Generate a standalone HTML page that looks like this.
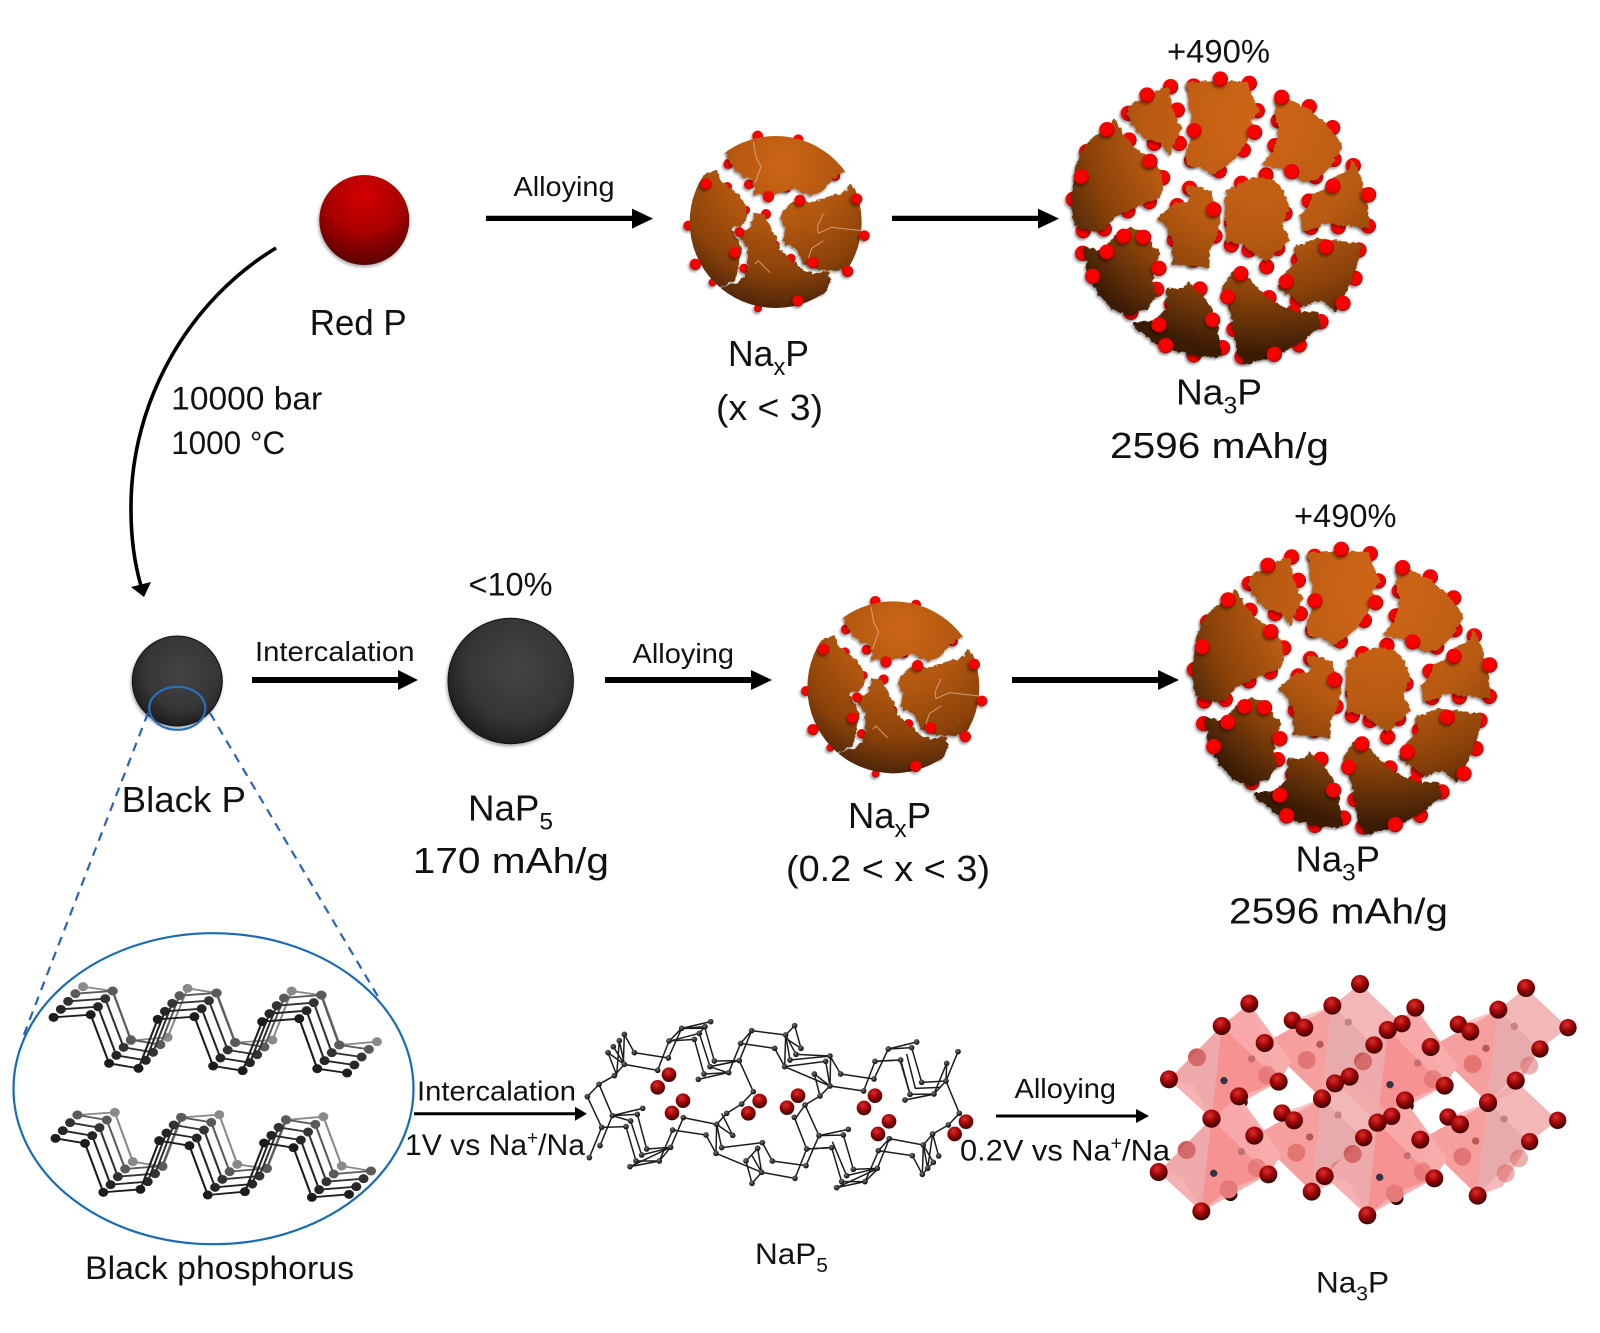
<!DOCTYPE html>
<html lang="en"><head><meta charset="utf-8"><title>Sodium phosphide diagram</title>
<style>html,body{margin:0;padding:0;background:#fff}svg{display:block}text{font-family:"Liberation Sans",sans-serif;fill:#111}</style></head>
<body>
<svg xmlns="http://www.w3.org/2000/svg" width="1600" height="1333" viewBox="0 0 1600 1333">
<defs>
<radialGradient id="redP" cx=".5" cy=".22" r=".85"><stop offset="0" stop-color="#d40000"/><stop offset=".5" stop-color="#a80000"/><stop offset=".85" stop-color="#660000"/><stop offset="1" stop-color="#4a0000"/></radialGradient>
<radialGradient id="blk" cx=".55" cy=".4" r=".62"><stop offset="0" stop-color="#444"/><stop offset=".65" stop-color="#363636"/><stop offset="1" stop-color="#1c1c1c"/></radialGradient>
<radialGradient id="ball" cx=".45" cy=".42" r=".6"><stop offset="0" stop-color="#ff0000"/><stop offset=".75" stop-color="#f40000"/><stop offset="1" stop-color="#9a0000"/></radialGradient>
<radialGradient id="dball" cx=".42" cy=".32" r=".68"><stop offset="0" stop-color="#d83030"/><stop offset=".45" stop-color="#a80808"/><stop offset="1" stop-color="#3a0000"/></radialGradient>
<radialGradient id="at" cx=".4" cy=".35" r=".7"><stop offset="0" stop-color="#777"/><stop offset=".5" stop-color="#333"/><stop offset="1" stop-color="#111"/></radialGradient>
<radialGradient id="gL" gradientUnits="userSpaceOnUse" cx="600" cy="180" r="700"><stop offset=".1" stop-color="#cc6416"/><stop offset=".5" stop-color="#b85a12"/><stop offset=".75" stop-color="#8a4209"/><stop offset=".92" stop-color="#552a08"/><stop offset="1" stop-color="#3c1b04"/></radialGradient>
<radialGradient id="gS" gradientUnits="userSpaceOnUse" cx="310" cy="130" r="470"><stop offset="0" stop-color="#cd6516"/><stop offset=".4" stop-color="#b0560f"/><stop offset=".7" stop-color="#8a4209"/><stop offset=".9" stop-color="#55290a"/><stop offset="1" stop-color="#3c1b04"/></radialGradient>
<filter id="sh" x="-5%" y="-5%" width="110%" height="110%" color-interpolation-filters="sRGB"><feDropShadow dx="-4" dy="6" stdDeviation="4" flood-color="#000" flood-opacity=".4"/></filter>
<filter id="rough" x="-5%" y="-5%" width="110%" height="110%" color-interpolation-filters="sRGB"><feTurbulence type="fractalNoise" baseFrequency=".07" numOctaves="2" seed="3" result="n"/><feDisplacementMap in="SourceGraphic" in2="n" scale="16" xChannelSelector="R" yChannelSelector="G" result="d"/><feDropShadow in="d" dx="-4" dy="6" stdDeviation="4" flood-color="#000" flood-opacity=".4"/></filter>
<filter id="sh2" x="-15%" y="-15%" width="130%" height="130%" color-interpolation-filters="sRGB"><feDropShadow dx="-1" dy="2" stdDeviation="1.5" flood-color="#000" flood-opacity=".35"/></filter>
<clipPath id="cs"><circle cx="287" cy="306" r="258"/></clipPath>

<g id="L">
<g filter="url(#sh)" fill="url(#ball)">
<circle cx="332" cy="80" r="23"/><circle cx="352" cy="150" r="23"/><circle cx="358" cy="250" r="23"/><circle cx="283" cy="250" r="23"/><circle cx="205" cy="160" r="23"/>
<circle cx="401" cy="78" r="23"/><circle cx="568" cy="70" r="23"/><circle cx="592" cy="152" r="23"/><circle cx="550" cy="270" r="23"/><circle cx="478" cy="332" r="23"/><circle cx="395" cy="300" r="23"/>
<circle cx="748" cy="140" r="23"/><circle cx="818" cy="203" r="23"/><circle cx="822" cy="298" r="23"/><circle cx="767" cy="350" r="23"/><circle cx="655" cy="182" r="23"/><circle cx="645" cy="257" r="23"/>
<circle cx="207" cy="240" r="23"/><circle cx="80" cy="275" r="23"/><circle cx="308" cy="353" r="23"/><circle cx="40" cy="418" r="23"/><circle cx="268" cy="425" r="23"/><circle cx="204" cy="452" r="23"/><circle cx="70" cy="512" r="23"/><circle cx="133" cy="507" r="23"/>
<circle cx="389" cy="385" r="23"/><circle cx="352" cy="437" r="23"/><circle cx="465" cy="528" r="23"/><circle cx="343" cy="540" r="23"/><circle cx="400" cy="600" r="23"/>
<circle cx="545" cy="370" r="23"/><circle cx="618" cy="345" r="23"/><circle cx="675" cy="460" r="23"/><circle cx="515" cy="490" r="23"/><circle cx="514" cy="555" r="23"/><circle cx="567" cy="570" r="23"/><circle cx="653" cy="565" r="23"/><circle cx="620" cy="620" r="23"/>
<circle cx="880" cy="317" r="23"/><circle cx="747" cy="423" r="23"/><circle cx="925" cy="498" r="23"/><circle cx="835" cy="500" r="23"/><circle cx="753" cy="502" r="23"/>
<circle cx="897" cy="570" r="23"/><circle cx="715" cy="600" r="23"/><circle cx="885" cy="655" r="23"/><circle cx="712" cy="722" r="23"/>
<circle cx="68" cy="580" r="23"/><circle cx="290" cy="688" r="23"/><circle cx="213" cy="757" r="23"/>
<circle cx="420" cy="687" r="23"/><circle cx="335" cy="733" r="23"/><circle cx="488" cy="863" r="23"/><circle cx="402" cy="885" r="23"/>
<circle cx="627" cy="713" r="23"/><circle cx="700" cy="757" r="23"/><circle cx="783" cy="785" r="23"/><circle cx="718" cy="855" r="23"/><circle cx="546" cy="890" r="23"/><circle cx="522" cy="808" r="23"/>
</g>
<g filter="url(#rough)" fill="url(#gL)" stroke="url(#gL)" stroke-width="10" stroke-linejoin="round">
<polygon points="205,150 235,125 270,105 322,85 328,120 335,150 345,180 360,205 345,235 328,280 308,250 270,235 230,210 215,180"/>
<polygon points="385,72 440,70 500,68 560,72 572,110 580,130 595,155 572,175 570,210 552,250 525,290 495,315 460,338 420,320 385,310 382,280 395,240 400,190 392,140"/>
<polygon points="650,125 690,125 740,150 790,190 820,225 842,255 830,285 805,320 770,355 730,362 700,340 660,322 615,312 640,280 655,240 660,200 650,160"/>
<polygon points="165,185 185,225 225,270 270,300 295,330 303,380 295,410 250,425 205,450 165,465 130,505 100,510 50,495 38,450 42,380 56,310 82,255 125,220"/>
<polygon points="380,385 420,385 450,400 465,450 475,480 465,530 445,570 440,620 400,612 340,610 345,560 325,500 297,475 345,435 385,430 395,410"/>
<polygon points="505,395 550,370 590,355 640,365 675,410 682,450 660,490 685,540 650,570 620,600 590,580 545,545 500,540 505,490 498,440"/>
<polygon points="878,305 900,360 915,410 925,500 850,492 790,488 760,505 730,510 725,470 750,440 760,405 800,390 830,350 870,335"/>
<polygon points="705,565 770,540 900,555 885,620 860,680 825,750 790,715 730,730 690,700 660,685 690,630 720,600"/>
<polygon points="75,565 130,580 170,530 210,505 240,515 275,560 295,580 280,620 275,670 285,705 255,745 215,760 160,745 120,700 92,650"/>
<polygon points="222,792 290,785 325,745 325,690 370,690 385,672 425,710 450,745 470,800 480,885 420,885 350,870 280,840"/>
<polygon points="520,640 560,650 590,690 640,730 700,760 770,760 778,795 720,840 640,885 560,908 535,870 525,810 510,730 490,690"/>
</g>
<g filter="url(#sh)" fill="url(#ball)">
<circle cx="261" cy="105" r="23"/><circle cx="481" cy="57" r="23"/><circle cx="584" cy="217" r="23"/><circle cx="402" cy="212" r="23"/><circle cx="665" cy="112" r="23"/><circle cx="695" cy="335" r="23"/>
<circle cx="141" cy="209" r="23"/><circle cx="64" cy="350" r="23"/><circle cx="270" cy="304" r="23"/><circle cx="462" cy="449" r="23"/><circle cx="819" cy="378" r="23"/><circle cx="926" cy="404" r="23"/>
<circle cx="799" cy="561" r="23"/><circle cx="679" cy="665" r="23"/><circle cx="849" cy="730" r="23"/><circle cx="141" cy="576" r="23"/><circle cx="98" cy="649" r="23"/><circle cx="191" cy="529" r="23"/><circle cx="251" cy="532" r="23"/><circle cx="297" cy="625" r="23"/>
<circle cx="297" cy="795" r="23"/><circle cx="317" cy="857" r="23"/><circle cx="458" cy="780" r="23"/><circle cx="543" cy="641" r="23"/><circle cx="503" cy="711" r="23"/><circle cx="643" cy="883" r="23"/>
</g>
</g>

<g id="S">
<g filter="url(#sh)" fill="url(#ball)">
<circle cx="233" cy="48" r="16"/><circle cx="355" cy="58" r="15"/><circle cx="145" cy="132" r="15"/><circle cx="466" cy="168" r="15"/><circle cx="207" cy="193" r="15"/><circle cx="320" cy="205" r="13"/>
<circle cx="142" cy="200" r="14"/><circle cx="197" cy="270" r="13"/><circle cx="25" cy="317" r="15"/><circle cx="98" cy="487" r="12"/>
<circle cx="258" cy="282" r="15"/><circle cx="285" cy="375" r="14"/><circle cx="333" cy="415" r="14"/><circle cx="192" cy="445" r="14"/><circle cx="425" cy="510" r="13"/><circle cx="234" cy="565" r="12"/><circle cx="430" cy="258" r="15"/>
</g>
<g clip-path="url(#cs)">
<g filter="url(#rough)" fill="url(#gS)" stroke="url(#gS)" stroke-width="5" stroke-linejoin="round">
<polygon points="138,100 120,30 470,20 500,150 472,165 440,190 425,212 395,225 370,220 345,200 320,210 290,222 265,220 225,222 220,180 190,170 165,145 150,125"/>
<polygon points="108,155 125,190 170,220 190,250 200,290 190,310 150,325 165,350 185,385 175,420 165,480 135,490 90,520 30,500 -10,310 50,170"/>
<polygon points="225,280 250,285 268,320 285,350 290,380 330,420 370,450 400,465 440,455 452,480 430,525 400,570 300,590 200,580 120,520 130,500 170,495 195,470 205,440 205,380 180,350 215,320"/>
<polygon points="510,195 560,240 570,350 550,410 500,450 440,448 400,440 370,430 350,380 310,365 318,330 305,290 320,260 350,245 390,250 430,240 470,225 505,215"/>
</g>
</g>
<g fill="none" stroke="#e0b090" stroke-width="3" opacity=".8">
<polyline points="220,65 228,110 243,140 225,190"/>
<polyline points="430,280 412,320 415,340 455,322 545,332"/>
<polyline points="430,362 395,385 385,415"/>
<polyline points="225,432 235,422 270,458"/>
</g>
<g filter="url(#sh)" fill="url(#ball)">
<circle cx="265" cy="230" r="17"/><circle cx="78" cy="192" r="17"/><circle cx="166" cy="398" r="17"/><circle cx="46" cy="433" r="17"/><circle cx="178" cy="336" r="15"/><circle cx="354" cy="543" r="17"/>
<circle cx="360" cy="241" r="17"/><circle cx="530" cy="237" r="17"/><circle cx="399" cy="428" r="17"/><circle cx="503" cy="454" r="17"/><circle cx="553" cy="347" r="16"/>
</g>
</g>

<g id="TA">
<polyline fill="none" stroke="currentColor" stroke-width="5.5" points="140,292 237,284 285,430 362,445 412,298 508,290 557,438 634,452 685,305 782,296 829,446 907,459"/>
<g fill="currentColor">
<ellipse cx="140" cy="292" rx="13" ry="13.5"/><ellipse cx="237" cy="284" rx="13" ry="13.5"/><ellipse cx="285" cy="430" rx="13" ry="13.5"/><ellipse cx="362" cy="445" rx="13" ry="13.5"/><ellipse cx="412" cy="298" rx="13" ry="13.5"/><ellipse cx="508" cy="290" rx="13" ry="13.5"/><ellipse cx="557" cy="438" rx="13" ry="13.5"/><ellipse cx="634" cy="452" rx="13" ry="13.5"/><ellipse cx="685" cy="305" rx="13" ry="13.5"/><ellipse cx="782" cy="296" rx="13" ry="13.5"/><ellipse cx="829" cy="446" rx="13" ry="13.5"/><ellipse cx="907" cy="459" rx="13" ry="13.5"/>
</g>
</g>
<g id="BA">
<polyline fill="none" stroke="currentColor" stroke-width="5.5" points="145,655 222,670 270,817 367,808 416,662 495,677 543,825 640,815 690,669 767,683 815,832 912,823"/>
<g fill="currentColor">
<ellipse cx="145" cy="655" rx="13" ry="13.5"/><ellipse cx="222" cy="670" rx="13" ry="13.5"/><ellipse cx="270" cy="817" rx="13" ry="13.5"/><ellipse cx="367" cy="808" rx="13" ry="13.5"/><ellipse cx="416" cy="662" rx="13" ry="13.5"/><ellipse cx="495" cy="677" rx="13" ry="13.5"/><ellipse cx="543" cy="825" rx="13" ry="13.5"/><ellipse cx="640" cy="815" rx="13" ry="13.5"/><ellipse cx="690" cy="669" rx="13" ry="13.5"/><ellipse cx="767" cy="683" rx="13" ry="13.5"/><ellipse cx="815" cy="832" rx="13" ry="13.5"/><ellipse cx="912" cy="823" rx="13" ry="13.5"/>
</g>
</g>
<g id="T5">
<polyline fill="none" stroke="currentColor" stroke-width="5.5" points="217,200 295,213 342,362 438,352 490,205 567,219 615,368 712,360 762,213 841,226 888,375 985,365"/>
<g fill="currentColor">
<ellipse cx="217" cy="200" rx="13" ry="13.5"/><ellipse cx="295" cy="213" rx="13" ry="13.5"/><ellipse cx="342" cy="362" rx="13" ry="13.5"/><ellipse cx="438" cy="352" rx="13" ry="13.5"/><ellipse cx="490" cy="205" rx="13" ry="13.5"/><ellipse cx="567" cy="219" rx="13" ry="13.5"/><ellipse cx="615" cy="368" rx="13" ry="13.5"/><ellipse cx="712" cy="360" rx="13" ry="13.5"/><ellipse cx="762" cy="213" rx="13" ry="13.5"/><ellipse cx="841" cy="226" rx="13" ry="13.5"/><ellipse cx="888" cy="375" rx="13" ry="13.5"/><ellipse cx="985" cy="365" rx="13" ry="13.5"/>
</g>
</g>
<g id="B5">
<polyline fill="none" stroke="currentColor" stroke-width="5.5" points="203,585 300,577 347,725 425,740 475,592 573,584 620,733 698,746 748,600 845,590 893,738 970,753"/>
<g fill="currentColor">
<ellipse cx="203" cy="585" rx="13" ry="13.5"/><ellipse cx="300" cy="577" rx="13" ry="13.5"/><ellipse cx="347" cy="725" rx="13" ry="13.5"/><ellipse cx="425" cy="740" rx="13" ry="13.5"/><ellipse cx="475" cy="592" rx="13" ry="13.5"/><ellipse cx="573" cy="584" rx="13" ry="13.5"/><ellipse cx="620" cy="733" rx="13" ry="13.5"/><ellipse cx="698" cy="746" rx="13" ry="13.5"/><ellipse cx="748" cy="600" rx="13" ry="13.5"/><ellipse cx="845" cy="590" rx="13" ry="13.5"/><ellipse cx="893" cy="738" rx="13" ry="13.5"/><ellipse cx="970" cy="753" rx="13" ry="13.5"/>
</g>
</g>

<g id="VF">
<polygon points="374,249 577,137 546,417" fill="#f48e8e" opacity=".85"/>
<polygon points="577,137 702,255 546,417" fill="#e29696" opacity=".8"/>
<polygon points="577,137 660,72 786,191 702,255" fill="#f0aaaa" opacity=".85"/>
<polygon points="374,249 493,203 457,181 577,137" fill="#fba0a0" opacity=".6"/>
<polygon points="702,255 620,390 546,417" fill="#f5a8a8" opacity=".8"/>
</g>
<g id="UF">
<polygon points="328,131 455,305 416,365" fill="#f8adad"/>
<polygon points="87,358 245,198 215,476" fill="#eeaaaa"/>
<polygon points="245,198 328,131 416,365" fill="#f8a8a8"/>
<polygon points="245,198 416,365 215,476" fill="#f69292"/>
<polygon points="416,365 297,410 215,476" fill="#fcb2b2"/>
<polygon points="87,358 215,476 160,375" fill="#f6b2b2"/>
</g>
<g id="VI">
<circle cx="500" cy="300" r="27" fill="#d86060" opacity=".65"/><circle cx="630" cy="350" r="27" fill="#d86060" opacity=".5"/><circle cx="540" cy="253" r="11" fill="#b85858"/><circle cx="625" cy="187" r="11" fill="#c88080"/><circle cx="670" cy="305" r="27" fill="#d86060" opacity=".5"/>
</g>
<g id="UI">
<circle cx="171" cy="292" r="27" fill="#c84848" opacity=".65"/><circle cx="381" cy="345" r="27" fill="#d86060" opacity=".5"/><circle cx="303" cy="425" r="20" fill="#300"/><circle cx="297" cy="410" r="27" fill="#e57a7a"/><circle cx="252" cy="362" r="11" fill="#334"/><circle cx="335" cy="297" r="11" fill="#c07070"/>
</g>
<g id="VB" fill="url(#dball)">
<circle cx="457" cy="181" r="26"/><circle cx="786" cy="191" r="26"/><circle cx="702" cy="255" r="26"/><circle cx="660" cy="72" r="27"/><circle cx="577" cy="137" r="27"/><circle cx="374" cy="249" r="27"/><circle cx="493" cy="203" r="27"/><circle cx="546" cy="417" r="27"/>
</g>
<g id="UB" fill="url(#dball)">
<circle cx="245" cy="198" r="27"/><circle cx="328" cy="131" r="27"/><circle cx="87" cy="358" r="27"/><circle cx="416" cy="365" r="27"/><circle cx="215" cy="476" r="27"/>
</g>
</defs>

<rect width="1600" height="1333" fill="#fff"/>

<!-- top row -->
<circle cx="364.3" cy="220" r="45" fill="url(#redP)" filter="url(#sh2)"/>
<text x="309.7" y="335" font-size="36" textLength="97" lengthAdjust="spacingAndGlyphs">Red P</text>
<path d="M276 248 C190 300 130 400 131 510 C131 540 135 565 141 586" fill="none" stroke="#000" stroke-width="3.6"/>
<polygon points="144,597 131,587 151,582" fill="#000"/>
<text x="171.2" y="409.3" font-size="32" textLength="151" lengthAdjust="spacingAndGlyphs">10000 bar</text>
<text x="171.2" y="454" font-size="32" textLength="114" lengthAdjust="spacingAndGlyphs">1000 °C</text>

<text x="513.5" y="196" font-size="27.5" textLength="101" lengthAdjust="spacingAndGlyphs">Alloying</text>
<path d="M486 215.8h146v-7.2l21 10-21 10v-7.6h-146z" fill="#000"/>
<use href="#S" transform="translate(680 120) scale(.33333)"/>
<text x="728" y="366" font-size="36" textLength="81" lengthAdjust="spacingAndGlyphs">Na<tspan font-size="24" dy="9">x</tspan><tspan dy="-9">P</tspan></text>
<text x="716" y="420" font-size="36" textLength="107" lengthAdjust="spacingAndGlyphs">(x &lt; 3)</text>
<path d="M892 215.8h146v-7.2l21 10-21 10v-7.6h-146z" fill="#000"/>
<text x="1167" y="62.3" font-size="32" textLength="103" lengthAdjust="spacingAndGlyphs">+490%</text>
<use href="#L" transform="translate(1060 60) scale(.33333)"/>
<text x="1176" y="404.6" font-size="36" textLength="86" lengthAdjust="spacingAndGlyphs">Na<tspan font-size="24" dy="9">3</tspan><tspan dy="-9">P</tspan></text>
<text x="1110" y="458" font-size="36" textLength="219" lengthAdjust="spacingAndGlyphs">2596 mAh/g</text>

<!-- middle row -->
<circle cx="177.3" cy="681" r="45" fill="url(#blk)" stroke="#111" stroke-width="1" filter="url(#sh2)"/>
<ellipse cx="177.3" cy="708.3" rx="28" ry="21.5" fill="none" stroke="#2a70c0" stroke-width="2.2"/>
<line x1="148" y1="713" x2="23" y2="1037" stroke="#2a62b8" stroke-width="2.2" stroke-dasharray="9 7"/>
<line x1="210" y1="713" x2="380" y2="1000" stroke="#2a62b8" stroke-width="2.2" stroke-dasharray="9 7"/>
<text x="121.6" y="812" font-size="36" textLength="124.4" lengthAdjust="spacingAndGlyphs">Black P</text>
<text x="255" y="661" font-size="27.5" textLength="159.5" lengthAdjust="spacingAndGlyphs">Intercalation</text>
<path d="M252 677h146v-7l20 10-20 10v-7h-146z" fill="#000"/>
<text x="468.5" y="595.6" font-size="32" textLength="84" lengthAdjust="spacingAndGlyphs">&lt;10%</text>
<circle cx="510.7" cy="681" r="62.7" fill="url(#blk)" stroke="#111" stroke-width="1" filter="url(#sh2)"/>
<text x="468" y="820.5" font-size="36" textLength="85" lengthAdjust="spacingAndGlyphs">NaP<tspan font-size="24" dy="9">5</tspan></text>
<text x="412.8" y="873" font-size="36" textLength="196.2" lengthAdjust="spacingAndGlyphs">170 mAh/g</text>
<text x="632.5" y="663" font-size="27.5" textLength="101.5" lengthAdjust="spacingAndGlyphs">Alloying</text>
<path d="M605 677h146v-7l21 10-21 10v-7h-146z" fill="#000"/>
<use href="#S" transform="translate(797.67 585.33) scale(.33333)"/>
<text x="848" y="828" font-size="36" textLength="83" lengthAdjust="spacingAndGlyphs">Na<tspan font-size="24" dy="9">x</tspan><tspan dy="-9">P</tspan></text>
<text x="786" y="881" font-size="36" textLength="204" lengthAdjust="spacingAndGlyphs">(0.2 &lt; x &lt; 3)</text>
<path d="M1012 677h146v-7l21 10-21 10v-7h-146z" fill="#000"/>
<text x="1294" y="527" font-size="32" textLength="102.5" lengthAdjust="spacingAndGlyphs">+490%</text>
<use href="#L" transform="translate(1181 530.3) scale(.33333)"/>
<text x="1295.5" y="871.5" font-size="36" textLength="84.5" lengthAdjust="spacingAndGlyphs">Na<tspan font-size="24" dy="9">3</tspan><tspan dy="-9">P</tspan></text>
<text x="1229" y="923.6" font-size="36" textLength="219" lengthAdjust="spacingAndGlyphs">2596 mAh/g</text>

<!-- black phosphorus -->
<ellipse cx="213.5" cy="1088.7" rx="200" ry="155.5" fill="#fff" stroke="#1a6bb5" stroke-width="2.2"/>
<g transform="translate(0 920) scale(.3827 .33333)">
<use href="#T5" style="color:#8a8a8a"/>
<use href="#TA" x="57" y="-71" style="color:#5a5a5a"/>
<use href="#TA" x="38" y="-48" style="color:#333"/>
<use href="#TA" x="19" y="-24" style="color:#262626"/>
<use href="#TA" style="color:#1c1c1c"/>
<use href="#B5" style="color:#8a8a8a"/>
<use href="#BA" x="57" y="-70" style="color:#5a5a5a"/>
<use href="#BA" x="38" y="-47" style="color:#333"/>
<use href="#BA" x="19" y="-23" style="color:#262626"/>
<use href="#BA" style="color:#1c1c1c"/>
</g>
<text x="85" y="1279" font-size="32" textLength="269" lengthAdjust="spacingAndGlyphs">Black phosphorus</text>

<text x="417" y="1100.7" font-size="27.5" textLength="159" lengthAdjust="spacingAndGlyphs">Intercalation</text>
<path d="M414 1112.2h161v-5.5l12 7-12 7v-5.5h-161z" fill="#000"/>
<text x="405" y="1155" font-size="30" textLength="180" lengthAdjust="spacingAndGlyphs">1V vs Na<tspan font-size="19" dy="-11">+</tspan><tspan dy="11">/Na</tspan></text>

<!-- NaP5 -->
<g transform="translate(580 1000) scale(.33333)">
<g fill="none" stroke="#1c1c1c" stroke-width="4.5" stroke-linejoin="round">
<polyline points="22,290 57,253 103,227 133,193 233,211 267,123 343,118 372,222 446,218 482,130 584,145 614,200 750,258 851,273 885,184 962,180 990,283 1062,282 1098,243 1138,340 1105,375 1058,402 1030,435 928,416 895,452 997,467 1027,523"/>
<polyline points="22,290 65,382 138,380 168,483 238,483 278,390 378,405 408,460 545,517 645,535 680,447 755,443 785,545 855,545 896,452"/>
<polyline points="57,253 97,347 172,343 200,447 272,442 310,353 410,373 440,340 485,312 520,275 478,182 403,183 375,85 305,85 265,174 163,158 133,103 130,190"/>
<polyline points="392,65 305,85 267,124 358,100 375,80 305,85"/>
<polyline points="358,100 390,200 478,182"/>
<polyline points="515,92 617,105 648,163 750,168 782,222 882,237 925,147 1010,126 925,147 995,143 1025,247 1098,243"/>
<polyline points="482,130 515,92 478,182"/>
<polyline points="617,105 614,200 737,184 750,258"/>
<polyline points="644,77 617,105 630,180 752,168 750,258"/>
<polyline points="644,77 663,145 625,120"/>
<polyline points="650,350 675,315 720,288 750,258 703,222 720,288"/>
<polyline points="643,352 680,447 755,443"/>
<polyline points="675,315 717,407 790,405 820,508 892,505 928,416"/>
<polyline points="1134,155 1098,243 1100,190 1062,282 975,300 1060,283"/>
<polyline points="885,184 960,180 990,283"/>
<polyline points="980,162 1006,265 1080,262"/>
<polyline points="757,425 800,527"/>
<polyline points="410,373 458,406 425,340"/>
<polyline points="410,373 425,443 547,428 577,483 678,497 717,407"/>
<polyline points="410,373 408,460"/>
<polyline points="545,517 533,445 498,483 516,550 545,517 515,465"/>
<polyline points="65,382 28,473"/>
<polyline points="60,437 97,347 188,325 97,347 152,363 185,465 275,442"/>
<polyline points="150,500 238,483 272,442 150,500"/>
<polyline points="355,238 443,218 390,200 478,182"/>
<polyline points="1030,435 1027,523 1060,487 1030,435 1043,505 1058,402 1076,468"/>
<polyline points="805,388 717,407"/>
<polyline points="770,563 855,545 895,505 770,563"/>
<polyline points="800,527 892,505"/>
<polyline points="100,140 133,193 84,158 110,225 118,122 133,193"/>
</g>
<g fill="url(#at)">
<circle cx="22" cy="290" r="8.5"/><circle cx="57" cy="253" r="8.5"/><circle cx="103" cy="227" r="8.5"/><circle cx="133" cy="193" r="8.5"/><circle cx="233" cy="211" r="8.5"/><circle cx="267" cy="123" r="8.5"/><circle cx="343" cy="118" r="8.5"/><circle cx="372" cy="222" r="8.5"/><circle cx="446" cy="218" r="8.5"/><circle cx="482" cy="130" r="8.5"/><circle cx="584" cy="145" r="8.5"/><circle cx="614" cy="200" r="8.5"/><circle cx="750" cy="258" r="8.5"/><circle cx="851" cy="273" r="8.5"/><circle cx="885" cy="184" r="8.5"/><circle cx="962" cy="180" r="8.5"/><circle cx="990" cy="283" r="8.5"/><circle cx="1062" cy="282" r="8.5"/><circle cx="1098" cy="243" r="8.5"/><circle cx="1138" cy="340" r="8.5"/><circle cx="1105" cy="375" r="8.5"/><circle cx="1058" cy="402" r="8.5"/><circle cx="1030" cy="435" r="8.5"/><circle cx="928" cy="416" r="8.5"/><circle cx="895" cy="452" r="8.5"/><circle cx="997" cy="467" r="8.5"/><circle cx="1027" cy="523" r="8.5"/>
<circle cx="65" cy="382" r="8.5"/><circle cx="138" cy="380" r="8.5"/><circle cx="168" cy="483" r="8.5"/><circle cx="238" cy="483" r="8.5"/><circle cx="278" cy="390" r="8.5"/><circle cx="378" cy="405" r="8.5"/><circle cx="408" cy="460" r="8.5"/><circle cx="545" cy="517" r="8.5"/><circle cx="645" cy="535" r="8.5"/><circle cx="680" cy="447" r="8.5"/><circle cx="755" cy="443" r="8.5"/><circle cx="785" cy="545" r="8.5"/><circle cx="855" cy="545" r="8.5"/>
<circle cx="97" cy="347" r="8.5"/><circle cx="172" cy="343" r="8.5"/><circle cx="200" cy="447" r="8.5"/><circle cx="272" cy="442" r="8.5"/><circle cx="310" cy="353" r="8.5"/><circle cx="410" cy="373" r="8.5"/><circle cx="440" cy="340" r="8.5"/><circle cx="485" cy="312" r="8.5"/><circle cx="520" cy="275" r="8.5"/><circle cx="478" cy="182" r="8.5"/><circle cx="403" cy="183" r="8.5"/><circle cx="375" cy="80" r="8.5"/><circle cx="305" cy="85" r="8.5"/><circle cx="265" cy="174" r="8.5"/><circle cx="163" cy="158" r="8.5"/><circle cx="133" cy="103" r="8.5"/>
<circle cx="392" cy="65" r="8.5"/><circle cx="358" cy="100" r="8.5"/><circle cx="515" cy="92" r="8.5"/><circle cx="617" cy="105" r="8.5"/><circle cx="648" cy="163" r="8.5"/><circle cx="750" cy="168" r="8.5"/><circle cx="782" cy="222" r="8.5"/><circle cx="882" cy="237" r="8.5"/><circle cx="925" cy="147" r="8.5"/><circle cx="1010" cy="126" r="8.5"/><circle cx="995" cy="143" r="8.5"/><circle cx="1025" cy="247" r="8.5"/>
<circle cx="737" cy="184" r="8.5"/><circle cx="630" cy="180" r="8.5"/><circle cx="644" cy="77" r="8.5"/><circle cx="663" cy="145" r="8.5"/><circle cx="643" cy="352" r="8.5"/><circle cx="675" cy="315" r="8.5"/><circle cx="720" cy="288" r="8.5"/><circle cx="703" cy="222" r="8.5"/>
<circle cx="717" cy="407" r="8.5"/><circle cx="790" cy="405" r="8.5"/><circle cx="820" cy="508" r="8.5"/><circle cx="892" cy="505" r="8.5"/><circle cx="1134" cy="155" r="8.5"/><circle cx="1100" cy="190" r="8.5"/><circle cx="975" cy="300" r="8.5"/>
<circle cx="458" cy="406" r="8.5"/><circle cx="425" cy="443" r="8.5"/><circle cx="547" cy="428" r="8.5"/><circle cx="577" cy="483" r="8.5"/><circle cx="678" cy="497" r="8.5"/><circle cx="533" cy="445" r="8.5"/><circle cx="498" cy="483" r="8.5"/><circle cx="516" cy="550" r="8.5"/>
<circle cx="28" cy="473" r="8.5"/><circle cx="60" cy="437" r="8.5"/><circle cx="188" cy="325" r="8.5"/><circle cx="152" cy="363" r="8.5"/><circle cx="150" cy="500" r="8.5"/><circle cx="185" cy="465" r="8.5"/><circle cx="355" cy="238" r="8.5"/><circle cx="390" cy="200" r="8.5"/>
<circle cx="1060" cy="487" r="8.5"/><circle cx="1043" cy="505" r="8.5"/><circle cx="1076" cy="468" r="8.5"/><circle cx="805" cy="388" r="8.5"/><circle cx="770" cy="563" r="8.5"/><circle cx="800" cy="527" r="8.5"/><circle cx="84" cy="158" r="8.5"/><circle cx="118" cy="122" r="8.5"/><circle cx="100" cy="140" r="8.5"/>
</g>
<g fill="url(#dball)">
<circle cx="267" cy="224" r="22"/><circle cx="233" cy="262" r="22"/><circle cx="309" cy="302" r="22"/><circle cx="276" cy="339" r="22"/><circle cx="539" cy="303" r="22"/><circle cx="505" cy="340" r="22"/><circle cx="654" cy="287" r="22"/><circle cx="621" cy="323" r="22"/><circle cx="885" cy="287" r="22"/><circle cx="852" cy="324" r="22"/><circle cx="927" cy="364" r="22"/><circle cx="894" cy="402" r="22"/><circle cx="1158" cy="365" r="22"/><circle cx="1124" cy="402" r="22"/>
</g>
</g>
<text x="755" y="1264" font-size="30" textLength="73" lengthAdjust="spacingAndGlyphs">NaP<tspan font-size="20" dy="8">5</tspan></text>

<!-- alloying arrow -->
<text x="1014.5" y="1098" font-size="27.5" textLength="101.5" lengthAdjust="spacingAndGlyphs">Alloying</text>
<path d="M996 1114.5h140v-5.5l13 7-13 7v-5.5h-140z" fill="#000"/>
<text x="960" y="1160.7" font-size="30" textLength="210" lengthAdjust="spacingAndGlyphs">0.2V vs Na<tspan font-size="19" dy="-11">+</tspan><tspan dy="11">/Na</tspan></text>

<!-- Na3P -->
<g transform="translate(1140 960) scale(.33333)">
<use href="#UF"/><use href="#UI"/>
<use href="#UF" x="498" y="12"/><use href="#UI" x="498" y="12"/>
<use href="#VF"/><use href="#VI"/>
<use href="#VF" x="498" y="12"/><use href="#VI" x="498" y="12"/>
<use href="#UF"/><use href="#UF" x="498" y="12"/><use href="#UI"/><use href="#UI" x="498" y="12"/>
<use href="#UF" x="-31" y="278"/><use href="#UI" x="-31" y="278"/>
<use href="#UF" x="467" y="290"/><use href="#UI" x="467" y="290"/>
<use href="#VF" x="-31" y="278"/><use href="#VI" x="-31" y="278"/>
<use href="#VF" x="467" y="290"/><use href="#VI" x="467" y="290"/>
<use href="#UF" x="-31" y="278"/><use href="#UI" x="-31" y="278"/>
<use href="#UF" x="467" y="290"/><use href="#UI" x="467" y="290"/>
<use href="#VB"/><use href="#VB" x="498" y="12"/><use href="#VB" x="-31" y="278"/><use href="#VB" x="467" y="290"/>
<use href="#UB"/><use href="#UB" x="498" y="12"/><use href="#UB" x="-31" y="278"/><use href="#UB" x="467" y="290"/>
</g>
<text x="1316" y="1292.5" font-size="30" textLength="73" lengthAdjust="spacingAndGlyphs">Na<tspan font-size="20" dy="8">3</tspan><tspan dy="-8">P</tspan></text>
</svg>
</body></html>
